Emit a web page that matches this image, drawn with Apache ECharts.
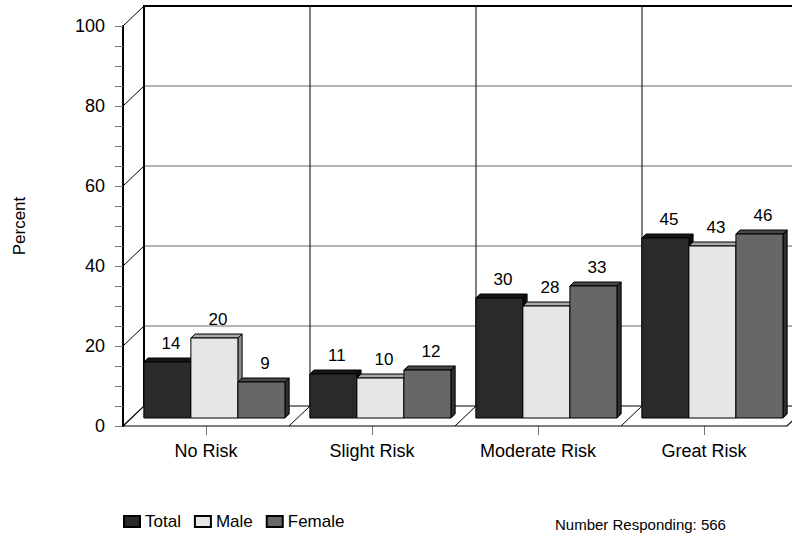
<!DOCTYPE html>
<html><head><meta charset="utf-8">
<script src="https://cdn.jsdelivr.net/npm/echarts@6/dist/echarts.min.js"></script>
<style>html,body{margin:0;padding:0;background:#fff}#c{width:792px;height:537px}</style>
</head><body><div id="c"></div>
<script>
const categories = ['No Risk', 'Slight Risk', 'Moderate Risk', 'Great Risk'];
const totalValues = [14, 11, 30, 45];
const maleValues = [20, 10, 28, 43];
const femaleValues = [9, 12, 33, 46];
const seriesNames = ['Total', 'Male', 'Female'];
const yTicks = [0, 20, 40, 60, 80, 100];
const footnote = 'Number Responding: 566';

const FONT = '"Liberation Sans", Arial, sans-serif';
const DEPTH = [21, -20];
const BAR_FRONT = 0.4;
const BAR_DEPTH = 0.2;
const faces = [
  {front: '#2a2a2a', top: '#161616', side: '#0e0e0e'},
  {front: '#e6e6e6', top: '#a9a9a9', side: '#8e8e8e'},
  {front: '#676767', top: '#474747', side: '#2f2f2f'}
];

function frameRender(params, api) {
  const children = [];
  const bw = api.size([1, 0])[0];
  const n = categories.length;
  const y0 = api.coord([0, 0])[1];
  const y100 = api.coord([0, 100])[1];
  const dx = DEPTH[0], dy = DEPTH[1];
  const xStart = api.coord([0, 0])[0] - bw / 2;
  const xEnd = xStart + n * bw;
  children.push({type: 'polygon', shape: {points: [[xStart, y0], [xEnd, y0], [xEnd + dx, y0 + dy], [xStart + dx, y0 + dy]]},
    style: {fill: '#fff', stroke: '#000', lineWidth: 1.2}});
  for (let i = 1; i < n; i++) {
    const x = xStart + i * bw;
    children.push({type: 'line', shape: {x1: x, y1: y0, x2: x + dx, y2: y0 + dy}, style: {stroke: '#000', lineWidth: 1}});
  }
  yTicks.forEach(function (t) {
    const y = api.coord([0, t])[1];
    if (t > 0 && t < 100) {
      children.push({type: 'line', shape: {x1: xStart + dx, y1: y + dy, x2: xEnd + dx, y2: y + dy}, style: {stroke: '#6a6a6a', lineWidth: 1.2}});
    }
    if (t > 0) {
      children.push({type: 'line', shape: {x1: xStart, y1: y, x2: xStart + dx, y2: y + dy}, style: {stroke: '#000', lineWidth: 1}});
    }
  });
  for (let i = 1; i <= n; i++) {
    const x = xStart + i * bw + dx;
    children.push({type: 'line', shape: {x1: x, y1: y100 + dy, x2: x, y2: y0 + dy}, style: {stroke: '#000', lineWidth: 1}});
  }
  children.push({type: 'polyline', shape: {points: [[xStart + dx, y0 + dy], [xStart + dx, y100 + dy], [xEnd + dx, y100 + dy]]},
    style: {stroke: '#000', lineWidth: 2, fill: null}});
  return {type: 'group', children: children};
}

function barRender(k) {
  return function (params, api) {
    const i = api.value(0), v = api.value(1);
    const bw = api.size([1, 0])[0];
    const groupW = bw * 0.85, w = groupW / 3;
    const top = api.coord([i, v]);
    const base = api.coord([i, 0]);
    const fx = DEPTH[0] * BAR_FRONT, fy = DEPTH[1] * BAR_FRONT;
    const ddx = DEPTH[0] * BAR_DEPTH, ddy = DEPTH[1] * BAR_DEPTH;
    const x1 = base[0] - groupW / 2 + k * w + fx, x2 = x1 + w;
    const yb = base[1] + fy, yt = top[1] + fy;
    const f = faces[k];
    return {type: 'group', children: [
      {type: 'polygon', shape: {points: [[x2, yb], [x2 + ddx, yb + ddy], [x2 + ddx, yt + ddy], [x2, yt]]}, style: {fill: f.side, stroke: '#000', lineWidth: 1}},
      {type: 'polygon', shape: {points: [[x1, yt], [x1 + ddx, yt + ddy], [x2 + ddx, yt + ddy], [x2, yt]]}, style: {fill: f.top, stroke: '#000', lineWidth: 1}},
      {type: 'rect', shape: {x: x1, y: yt, width: w, height: yb - yt}, style: {fill: f.front, stroke: '#000', lineWidth: 1}},
      {type: 'text', x: (x1 + x2) / 2 + ddx * 0.85, y: yt + ddy - 6,
        style: {text: String(v), font: '17px ' + FONT, fill: '#000', align: 'center', verticalAlign: 'bottom'}}
    ]};
  };
}

const valueSets = [totalValues, maleValues, femaleValues];
const barSeries = seriesNames.map(function (name, k) {
  return {
    type: 'custom', name: name, renderItem: barRender(k), clip: false, z: 3,
    itemStyle: {color: faces[k].front, borderColor: '#000', borderWidth: 1},
    data: valueSets[k].map(function (v, i) { return [i, v]; })
  };
});

const chart = echarts.init(document.getElementById('c'), null, {renderer: 'svg'});
chart.setOption({
  animation: false,
  backgroundColor: '#fff',
  textStyle: {fontFamily: FONT},
  grid: {left: 123, top: 26, width: 664, height: 400},
  xAxis: {
    type: 'category', data: categories,
    axisLine: {show: false},
    axisTick: {show: true, alignWithLabel: true, length: 9, lineStyle: {color: '#777'}},
    axisLabel: {fontSize: 18, color: '#000', margin: 16, fontFamily: FONT},
    splitLine: {show: false}
  },
  yAxis: {
    type: 'value', min: 0, max: 100, interval: 20,
    axisLine: {show: true, lineStyle: {color: '#000', width: 2}},
    axisTick: {show: true, length: 8, lineStyle: {color: '#777'}},
    minorTick: {show: true, splitNumber: 4, length: 8, lineStyle: {color: '#777'}},
    splitLine: {show: false},
    axisLabel: {fontSize: 18, color: '#000', margin: 18, fontFamily: FONT},
    name: 'Percent', nameLocation: 'middle', nameRotate: 90, nameGap: 95,
    nameTextStyle: {fontSize: 17, color: '#000', fontFamily: FONT}
  },
  legend: {
    data: seriesNames, left: 118, top: 508, icon: 'rect', itemWidth: 16, itemHeight: 11, itemGap: 13,
    textStyle: {fontSize: 17, color: '#000', fontFamily: FONT}
  },
  title: {text: footnote, left: 550, top: 512, textStyle: {fontSize: 15, fontWeight: 'normal', color: '#000', fontFamily: FONT}},
  series: [{type: 'custom', name: 'frame', renderItem: frameRender, clip: false, z: 1, silent: true, data: [[0, 0]]}].concat(barSeries)
});
</script>
</body></html>
